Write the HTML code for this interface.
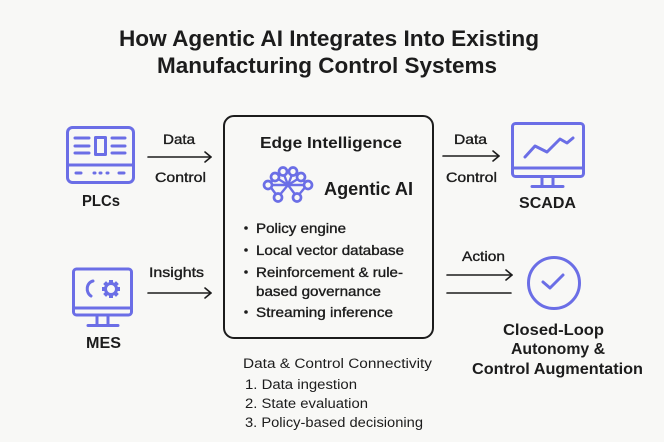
<!DOCTYPE html>
<html>
<head>
<meta charset="utf-8">
<style>
html,body{margin:0;padding:0;background:#f8f8f6;}
svg{display:block;}
text{font-family:"Liberation Sans",sans-serif;fill:#1c1c1c;}
.b{font-weight:bold;}
.m{stroke:#1c1c1c;stroke-width:0.35;}
</style>
</head>
<body>
<svg width="664" height="442" viewBox="0 0 664 442" xmlns="http://www.w3.org/2000/svg">
<rect width="664" height="442" fill="#f8f8f6"/>

<!-- Title -->
<text class="b" x="119" y="46" font-size="22" textLength="420" lengthAdjust="spacingAndGlyphs">How Agentic AI Integrates Into Existing</text>
<text class="b" x="157" y="73" font-size="22" textLength="340" lengthAdjust="spacingAndGlyphs">Manufacturing Control Systems</text>

<g fill="none" stroke="#6b6ee6" stroke-width="3" stroke-linecap="round" stroke-linejoin="round">
  <!-- PLC icon -->
  <rect x="67.5" y="127.5" width="66" height="55" rx="5"/>
  <line x1="67.5" y1="165" x2="133.5" y2="165"/>
  <line x1="75" y1="138" x2="89" y2="138"/>
  <line x1="75" y1="146" x2="89" y2="146"/>
  <line x1="75" y1="153" x2="89" y2="153"/>
  <rect x="95.5" y="137.5" width="10" height="17"/>
  <line x1="112" y1="138" x2="125" y2="138"/>
  <line x1="112" y1="146" x2="125" y2="146"/>
  <line x1="112" y1="153" x2="125" y2="153"/>
  <line x1="76" y1="173" x2="81" y2="173"/>
  <line x1="94" y1="173" x2="95" y2="173"/>
  <line x1="100" y1="173" x2="101" y2="173"/>
  <line x1="107" y1="173" x2="108" y2="173"/>
  <line x1="119" y1="173" x2="124" y2="173"/>

  <!-- MES icon -->
  <rect x="73.5" y="269" width="58" height="46" rx="3"/>
  <line x1="73.5" y1="308" x2="131.5" y2="308"/>
  <line x1="97" y1="315" x2="97" y2="325"/>
  <line x1="108" y1="315" x2="108" y2="325"/>
  <line x1="88" y1="325.5" x2="118" y2="325.5"/>
  <path d="M93 281 A7 8 0 0 0 91 296"/>
  <circle cx="111" cy="289" r="5.5"/>
  <g stroke-width="4" stroke-linecap="butt">
    <line x1="111" y1="280" x2="111" y2="283"/>
    <line x1="111" y1="295" x2="111" y2="298"/>
    <line x1="102" y1="289" x2="105" y2="289"/>
    <line x1="117" y1="289" x2="120" y2="289"/>
    <line x1="104.6" y1="282.6" x2="106.8" y2="284.8"/>
    <line x1="115.2" y1="293.2" x2="117.4" y2="295.4"/>
    <line x1="117.4" y1="282.6" x2="115.2" y2="284.8"/>
    <line x1="106.8" y1="293.2" x2="104.6" y2="295.4"/>
  </g>

  <!-- SCADA icon -->
  <rect x="512.5" y="123.5" width="71" height="53" rx="3"/>
  <line x1="512.5" y1="168" x2="583.5" y2="168"/>
  <line x1="542" y1="177" x2="542" y2="186"/>
  <line x1="553" y1="177" x2="553" y2="186"/>
  <line x1="532" y1="186.5" x2="563" y2="186.5"/>
  <polyline points="525,157 535,146 547,152 560,139 567,143 573,138"/>

  <!-- Closed loop circle -->
  <circle cx="554" cy="283" r="25.5"/>
  <polyline points="543,282 550,288 563,275"/>

  <!-- Network icon -->
  <g stroke-width="2.4">
    <line x1="288" y1="185" x2="275" y2="177"/>
    <line x1="288" y1="185" x2="283" y2="172"/>
    <line x1="288" y1="185" x2="293" y2="172"/>
    <line x1="288" y1="185" x2="301" y2="177"/>
    <line x1="288" y1="185" x2="269" y2="185"/>
    <line x1="288" y1="185" x2="307" y2="185"/>
    <line x1="288" y1="185" x2="278" y2="197"/>
    <line x1="288" y1="185" x2="297" y2="197"/>
    <line x1="269" y1="185" x2="278" y2="197"/>
    <line x1="307" y1="185" x2="297" y2="197"/>
    <line x1="269" y1="185" x2="275" y2="177"/>
    <line x1="307" y1="185" x2="301" y2="177"/>
  </g>
  <g fill="#f8f8f6" stroke-width="2.7">
    <circle cx="275" cy="177" r="4"/>
    <circle cx="283" cy="171.5" r="4"/>
    <circle cx="293" cy="171.5" r="4"/>
    <circle cx="301" cy="177" r="4"/>
    <circle cx="268" cy="185" r="4"/>
    <circle cx="308" cy="185" r="4"/>
    <circle cx="278" cy="197.5" r="4"/>
    <circle cx="297" cy="197.5" r="4"/>
  </g>
</g>

<!-- Central box -->
<rect x="224" y="116" width="209" height="222" rx="10" fill="none" stroke="#1c1c1c" stroke-width="2"/>

<!-- Arrows -->
<g fill="none" stroke="#1c1c1c" stroke-width="1.6" stroke-linecap="round" stroke-linejoin="round">
  <line x1="148" y1="157" x2="211" y2="157"/>
  <polyline points="205,152 211,157 205,162"/>
  <line x1="148" y1="293" x2="211" y2="293"/>
  <polyline points="205,288 211,293 205,298"/>
  <line x1="443" y1="156" x2="499" y2="156"/>
  <polyline points="493,151 499,156 493,161"/>
  <line x1="447" y1="275" x2="512" y2="275"/>
  <polyline points="506,270 512,275 506,280"/>
  <line x1="447" y1="293" x2="511" y2="293"/>
</g>

<!-- Labels -->
<text class="b" x="82" y="206" font-size="16" textLength="38" lengthAdjust="spacingAndGlyphs">PLCs</text>
<text class="m" x="163" y="144" font-size="14" textLength="32" lengthAdjust="spacingAndGlyphs">Data</text>
<text class="m" x="155" y="182" font-size="14" textLength="51" lengthAdjust="spacingAndGlyphs">Control</text>
<text class="m" x="149" y="277" font-size="14" textLength="55" lengthAdjust="spacingAndGlyphs">Insights</text>
<text class="b" x="86" y="348" font-size="16" textLength="35" lengthAdjust="spacingAndGlyphs">MES</text>

<text class="b" x="260" y="148" font-size="16" textLength="142" lengthAdjust="spacingAndGlyphs">Edge Intelligence</text>
<text class="b" x="324" y="195" font-size="18" textLength="89" lengthAdjust="spacingAndGlyphs">Agentic AI</text>

<g fill="#1c1c1c">
  <circle cx="246" cy="228" r="1.8"/>
  <circle cx="246" cy="250" r="1.8"/>
  <circle cx="246" cy="272" r="1.8"/>
  <circle cx="246" cy="312" r="1.8"/>
</g>
<text class="m" x="256" y="233" font-size="14" textLength="90" lengthAdjust="spacingAndGlyphs">Policy engine</text>
<text class="m" x="256" y="255" font-size="14" textLength="148" lengthAdjust="spacingAndGlyphs">Local vector database</text>
<text class="m" x="256" y="277" font-size="14" textLength="147" lengthAdjust="spacingAndGlyphs">Reinforcement &amp; rule-</text>
<text class="m" x="256" y="296" font-size="14" textLength="125" lengthAdjust="spacingAndGlyphs">based governance</text>
<text class="m" x="256" y="317" font-size="14" textLength="137" lengthAdjust="spacingAndGlyphs">Streaming inference</text>

<text x="243" y="368" font-size="13.5" textLength="189" lengthAdjust="spacingAndGlyphs">Data &amp; Control Connectivity</text>
<text x="245" y="389" font-size="13.5" textLength="112" lengthAdjust="spacingAndGlyphs">1. Data ingestion</text>
<text x="245" y="408" font-size="13.5" textLength="123" lengthAdjust="spacingAndGlyphs">2. State evaluation</text>
<text x="245" y="427" font-size="13.5" textLength="178" lengthAdjust="spacingAndGlyphs">3. Policy-based decisioning</text>

<text class="m" x="454" y="144" font-size="14" textLength="33" lengthAdjust="spacingAndGlyphs">Data</text>
<text class="m" x="446" y="182" font-size="14" textLength="51" lengthAdjust="spacingAndGlyphs">Control</text>
<text class="b" x="519" y="208" font-size="16" textLength="57" lengthAdjust="spacingAndGlyphs">SCADA</text>

<text class="m" x="462" y="261" font-size="14" textLength="43" lengthAdjust="spacingAndGlyphs">Action</text>
<text class="b" x="503" y="335" font-size="16" textLength="101" lengthAdjust="spacingAndGlyphs">Closed-Loop</text>
<text class="b" x="511" y="354" font-size="16" textLength="94" lengthAdjust="spacingAndGlyphs">Autonomy &amp;</text>
<text class="b" x="472" y="374" font-size="16" textLength="171" lengthAdjust="spacingAndGlyphs">Control Augmentation</text>
</svg>
</body>
</html>
